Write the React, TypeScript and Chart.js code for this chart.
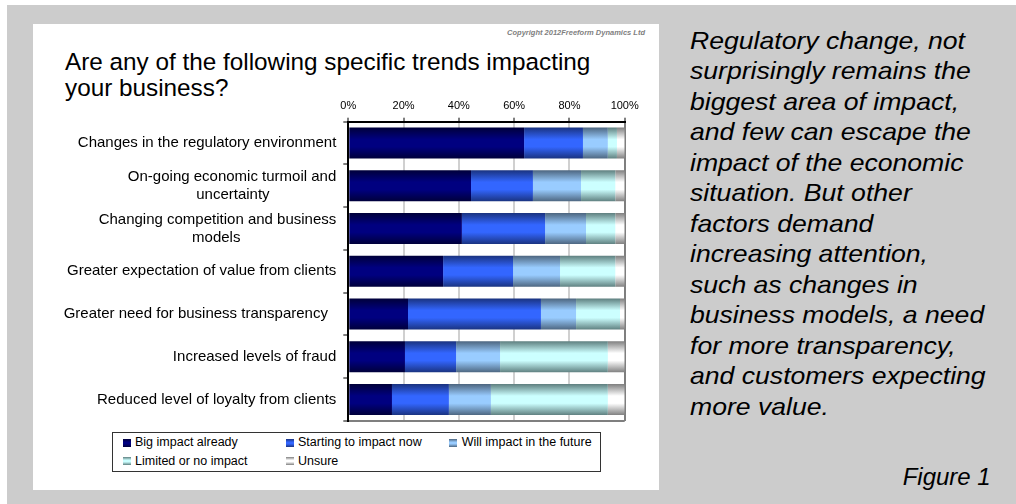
import React, { useEffect, useRef } from "react";
import { Chart, registerables } from "chart.js";

Chart.register(...registerables);

const categories: (string | string[])[] = [
  "Changes in the regulatory environment",
  ["On-going economic turmoil and", "uncertainty"],
  ["Changing competition and business", "models"],
  "Greater expectation of value from clients",
  "Greater need for business transparency  ",
  "Increased levels of fraud",
  "Reduced level of loyalty from clients",
];

const seriesNames = [
  "Big impact already",
  "Starting to impact now",
  "Will impact in the future",
  "Limited or no impact",
  "Unsure",
];

const bigImpact = [63.6, 44.4, 41.1, 34.3, 21.6, 20.5, 15.8];
const startingNow = [21.3, 22.4, 30.1, 25.3, 48.1, 18.5, 20.6];
const willImpact = [9.0, 17.4, 14.8, 17.0, 12.7, 15.9, 15.2];
const limitedImpact = [3.3, 12.4, 10.6, 20.0, 15.9, 39.0, 42.3];
const unsure = [2.8, 3.4, 3.4, 3.4, 1.7, 6.1, 6.1];

const xTickValues = [0, 20, 40, 60, 80, 100];

const title = ["Are any of the following specific trends impacting", "your business?"];
const copyright = "Copyright 2012Freeform Dynamics Ltd";
const commentary = [
  "Regulatory change, not",
  "surprisingly remains the",
  "biggest area of impact,",
  "and few can escape the",
  "impact of the economic",
  "situation. But other",
  "factors demand",
  "increasing attention,",
  "such as changes in",
  "business models, a need",
  "for more transparency,",
  "and customers expecting",
  "more value.",
];
const figureLabel = "Figure 1";

// [edge colour, centre colour] for the vertical shading of each series
const seriesShades: [string, string][] = [
  ["#00003a", "#000080"],
  ["#1a3380", "#3366ff"],
  ["#4d6680", "#99ccff"],
  ["#5f8080", "#ccffff"],
  ["#808080", "#ffffff"],
];

const FONT = "'Liberation Sans', Arial, Helvetica, sans-serif";
const BAR_PCT = 0.725;
const Y_FONT_SIZE = 15;

const measureCanvas = typeof document !== "undefined" ? document.createElement("canvas") : null;

function centerLines(label: string | string[]): string | string[] {
  if (!Array.isArray(label) || !measureCanvas) return label;
  const m = measureCanvas.getContext("2d")!;
  m.font = `${Y_FONT_SIZE}px ${FONT}`;
  const widths = label.map((l) => m.measureText(l).width);
  const max = Math.max(...widths);
  const sp = m.measureText(" ").width;
  return label.map((l, i) => l + " ".repeat(Math.max(0, Math.round((max - widths[i]) / 2 / sp))));
}

function shade(i: number) {
  const [edge, centre] = seriesShades[i];
  return (ctx: any) => {
    const chart = ctx.chart;
    const y = chart.scales && chart.scales.y;
    if (!y || ctx.dataIndex === undefined || !isFinite(y.height) || y.height <= 0) return centre;
    const c = y.getPixelForValue(ctx.dataIndex);
    const half = ((y.height / categories.length) * BAR_PCT) / 2;
    const g = chart.ctx.createLinearGradient(0, c - half, 0, c + half);
    g.addColorStop(0, edge);
    g.addColorStop(0.38, centre);
    g.addColorStop(0.62, centre);
    g.addColorStop(1, edge);
    return g;
  };
}

function cssShade(i: number) {
  const [edge, centre] = seriesShades[i];
  return `linear-gradient(to bottom, ${edge} 0%, ${centre} 40%, ${centre} 60%, ${edge} 100%)`;
}

export default function App() {
  const canvasRef = useRef<HTMLCanvasElement | null>(null);

  useEffect(() => {
    const canvas = canvasRef.current;
    if (!canvas) return;
    const values = [bigImpact, startingNow, willImpact, limitedImpact, unsure];
    const chart = new Chart(canvas, {
      type: "bar",
      data: {
        labels: categories as any,
        datasets: seriesNames.map((name, i) => ({
          label: name,
          data: values[i],
          backgroundColor: shade(i) as any,
          borderWidth: 0,
          barPercentage: BAR_PCT,
          categoryPercentage: 1,
        })),
      },
      options: {
        indexAxis: "y",
        responsive: false,
        animation: false,
        devicePixelRatio: 1,
        layout: { padding: { left: 40, top: 90, right: 391.3, bottom: 83 } },
        plugins: {
          legend: { display: false },
          tooltip: { enabled: false },
          title: { display: false },
        },
        scales: {
          x: {
            type: "linear",
            position: "top",
            stacked: true,
            min: 0,
            max: 100,
            afterBuildTicks: (s: any) => {
              s.ticks = xTickValues.map((v) => ({ value: v }));
            },
            afterFit: (s: any) => {
              s.height = 31.7;
            },
            ticks: {
              callback: (v: any) => `${v}%`,
              color: "#000",
              font: { family: FONT, size: 11 },
              padding: 5,
              maxRotation: 0,
            },
            grid: {
              color: (ctx: any) => {
                const v = ctx.tick ? ctx.tick.value : undefined;
                if (v === 0) return "rgba(0,0,0,0)";
                if (v === 100) return "#7f7f7f";
                return "#d0d0d0";
              },
              lineWidth: 2,
              tickColor: "#000",
              tickWidth: 1,
              tickLength: 4,
            },
            border: { color: "#000", width: 2 },
          },
          y: {
            type: "category",
            stacked: true,
            offset: true,
            afterFit: (s: any) => {
              s.width = 308.3;
            },
            ticks: {
              callback: function (this: any, v: any, idx: number) {
                return centerLines(categories[idx]) as any;
              },
              color: "#000",
              font: { family: FONT, size: Y_FONT_SIZE, lineHeight: 1.2 },
              padding: 7,
              crossAlign: "near",
              autoSkip: false,
            },
            grid: {
              offset: true,
              drawOnChartArea: true,
              color: (ctx: any) => (ctx.index === undefined ? "#7f7f7f" : "rgba(0,0,0,0)"),
              lineWidth: 2,
              tickColor: "#000",
              tickWidth: 1,
              tickLength: 5,
            },
            border: { color: "#000", width: 2 },
          },
        },
      },
    });
    return () => chart.destroy();
  }, []);

  const legendCols = [
    { sx: 122.7, tx: 135 },
    { sx: 285.7, tx: 298 },
    { sx: 449, tx: 461.7 },
  ];
  const legendRows = [
    { swatchTop: 438.5, textTop: 435.4 },
    { swatchTop: 457, textTop: 454 },
  ];

  return (
    <div
      style={{
        position: "fixed",
        left: 0,
        top: 0,
        width: 1016,
        height: 504,
        background: "#ffffff",
        overflow: "hidden",
        fontFamily: FONT,
        color: "#000",
      }}
    >
      <div style={{ position: "absolute", left: 7, top: 5, right: 0, bottom: 0, background: "#cccccc" }} />
      <div style={{ position: "absolute", left: 33, top: 24, width: 626, height: 466, background: "#ffffff" }} />
      <div
        style={{
          position: "absolute",
          left: 65,
          top: 49.2,
          fontSize: 24.3,
          lineHeight: "26px",
          whiteSpace: "nowrap",
          color: "#000",
        }}
      >
        {title.map((t, i) => (
          <div key={i}>{t}</div>
        ))}
      </div>
      <div
        style={{
          position: "absolute",
          right: 1016 - 645,
          top: 27.9,
          fontSize: 7.5,
          lineHeight: "9px",
          fontWeight: "bold",
          fontStyle: "italic",
          color: "#7f7f7f",
          whiteSpace: "nowrap",
        }}
      >
        {copyright}
      </div>
      <div
        style={{
          position: "absolute",
          left: 690,
          top: 25.8,
          fontSize: 24,
          lineHeight: "30.5px",
          fontStyle: "italic",
          whiteSpace: "nowrap",
          color: "#000",
          transform: "scaleX(1.108)",
          transformOrigin: "0 0",
        }}
      >
        {commentary.map((t, i) => (
          <div key={i}>{t}</div>
        ))}
      </div>
      <div
        style={{
          position: "absolute",
          right: 1016 - 990.7,
          top: 461.5,
          fontSize: 24,
          lineHeight: "30.5px",
          fontStyle: "italic",
          whiteSpace: "nowrap",
        }}
      >
        {figureLabel}
      </div>
      <div
        style={{
          position: "absolute",
          left: 112,
          top: 432,
          width: 489,
          height: 40,
          border: "1px solid #333",
          boxSizing: "border-box",
        }}
      />
      {seriesNames.map((name, i) => {
        const col = legendCols[i % 3];
        const row = legendRows[Math.floor(i / 3)];
        return (
          <React.Fragment key={name}>
            <div
              style={{
                position: "absolute",
                left: col.sx,
                top: row.swatchTop,
                width: 8,
                height: 8,
                background: cssShade(i),
              }}
            />
            <div
              style={{
                position: "absolute",
                left: col.tx,
                top: row.textTop,
                fontSize: 12.5,
                lineHeight: "14px",
                whiteSpace: "nowrap",
              }}
            >
              {name}
            </div>
          </React.Fragment>
        );
      })}
      <canvas
        ref={canvasRef}
        width={1016}
        height={504}
        style={{ position: "absolute", left: 0, top: 0, width: 1016, height: 504 }}
      />
    </div>
  );
}
